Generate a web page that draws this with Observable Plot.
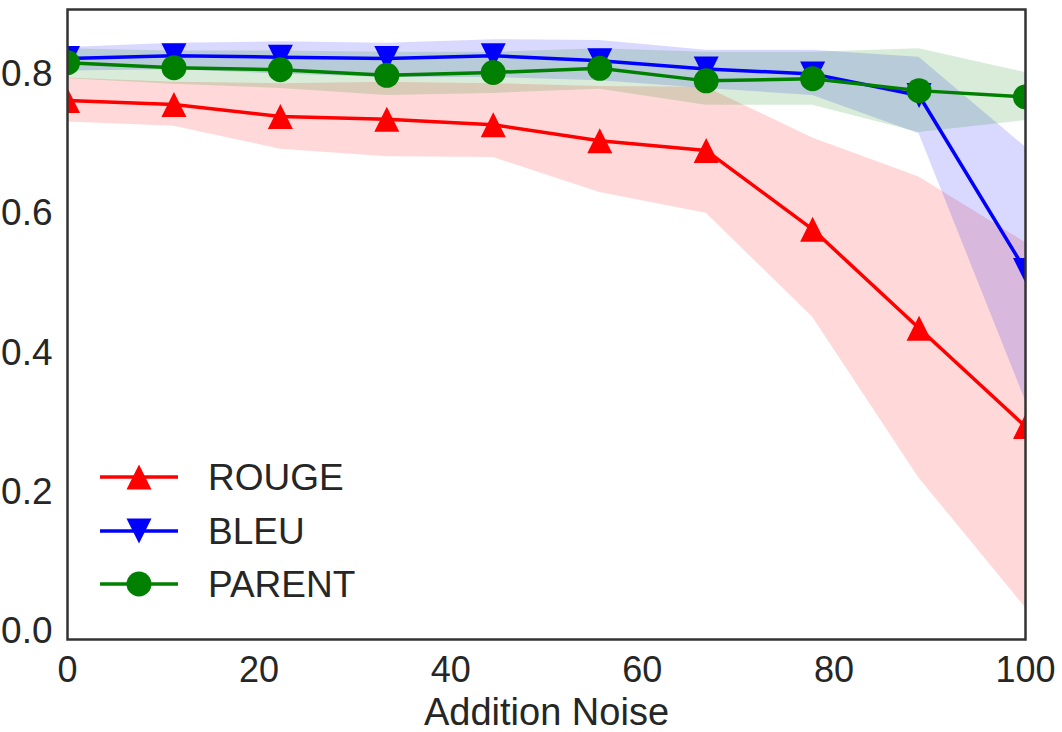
<!DOCTYPE html>
<html>
<head>
<meta charset="utf-8">
<script src="https://cdn.jsdelivr.net/npm/d3@7"></script>
<script src="https://cdn.jsdelivr.net/npm/@observablehq/plot@0.6"></script>
<style>
  html, body { margin: 0; padding: 0; background: #fff; }
  #chart { width: 1062px; height: 732px; }
</style>
</head>
<body>
<div id="chart"></div>
<script>
// Noise levels (x) and the score of each metric with its spread band
const noise = [0, 11.11, 22.22, 33.33, 44.44, 55.56, 66.67, 77.78, 88.89, 100];

const rougeMean = [0.762, 0.756, 0.739, 0.735, 0.727, 0.704, 0.690, 0.577, 0.435, 0.294];
const rougeLo   = [0.731, 0.725, 0.692, 0.681, 0.680, 0.630, 0.600, 0.451, 0.220, 0.034];
const rougeHi   = [0.794, 0.788, 0.786, 0.788, 0.786, 0.782, 0.781, 0.708, 0.652, 0.558];

const bleuMean = [0.822, 0.826, 0.824, 0.822, 0.826, 0.819, 0.807, 0.800, 0.769, 0.518];
const bleuLo   = [0.804, 0.806, 0.800, 0.795, 0.795, 0.790, 0.779, 0.769, 0.714, 0.331];
const bleuHi   = [0.838, 0.844, 0.846, 0.844, 0.849, 0.848, 0.834, 0.834, 0.824, 0.695];

const parentMean = [0.816, 0.809, 0.806, 0.798, 0.802, 0.808, 0.790, 0.793, 0.776, 0.767];
const parentLo   = [0.793, 0.785, 0.779, 0.769, 0.772, 0.778, 0.755, 0.755, 0.716, 0.733];
const parentHi   = [0.836, 0.833, 0.833, 0.831, 0.831, 0.836, 0.831, 0.831, 0.836, 0.802];

const seriesNames  = ["ROUGE", "BLEU", "PARENT"];
const seriesColors = ["red", "blue", "green"];
const xTicks = [0, 20, 40, 60, 80, 100];
const yTicks = [0.0, 0.2, 0.4, 0.6, 0.8];
const xLabel = "Addition Noise";

// Marker shapes: isoceles triangles as tall as they are wide, centred on their box
const triUp = {
  draw(ctx, size) {
    const r = Math.sqrt(size / Math.PI);
    ctx.moveTo(0, -r); ctx.lineTo(r, r); ctx.lineTo(-r, r); ctx.closePath();
  }
};
const triDown = {
  draw(ctx, size) {
    const r = Math.sqrt(size / Math.PI);
    ctx.moveTo(0, r); ctx.lineTo(r, -r); ctx.lineTo(-r, -r); ctx.closePath();
  }
};
const symbols = [triUp, triDown, "circle"];

const rowsOf = (mean, lo, hi) => noise.map((x, i) => ({x, y: mean[i], lo: lo[i], hi: hi[i]}));
const series = [
  rowsOf(rougeMean, rougeLo, rougeHi),
  rowsOf(bleuMean, bleuLo, bleuHi),
  rowsOf(parentMean, parentLo, parentHi)
];

const FONT = "'Liberation Sans', Arial, sans-serif";
const INK = "#262626";
const LINE_W = 3.5;
const MARK_R = 12.5;

const bands = series.map((rows, k) =>
  Plot.areaY(rows, {x: "x", y1: "lo", y2: "hi", fill: seriesColors[k], fillOpacity: 0.15, clip: true}));
const lines = series.flatMap((rows, k) => [
  Plot.line(rows, {x: "x", y: "y", stroke: seriesColors[k], strokeWidth: LINE_W, clip: true}),
  Plot.dot(rows, {x: "x", y: "y", symbol: symbols[k], r: MARK_R, fill: seriesColors[k], stroke: "none", clip: true})
]);

const chart = Plot.plot({
  width: 1062,
  height: 732,
  marginLeft: 67,
  marginRight: 37,
  marginTop: 9,
  marginBottom: 93,
  style: {fontFamily: FONT, fontSize: "36px", color: INK, background: "#fff"},
  x: {domain: [0, 100]},
  y: {domain: [-0.0115, 0.8924]},
  marks: [
    ...bands,
    ...lines,
    Plot.axisX({ticks: xTicks, tickSize: 0, tickPadding: 17, label: null, fontSize: 36}),
    Plot.axisY({ticks: yTicks, tickSize: 0, tickPadding: 15, label: null, fontSize: 37, tickFormat: d3.format(".1f")}),
    Plot.text([xLabel], {frameAnchor: "bottom", dy: 85, lineAnchor: "bottom", fontSize: 38, fill: INK}),
    Plot.frame({stroke: "#333", strokeWidth: 2.5})
  ]
});
document.getElementById("chart").appendChild(chart);

// Legend in the lower-left corner of the plot area
const svg = d3.select(chart);
const legend = svg.append("g")
  .attr("font-family", FONT).attr("font-size", 37).attr("fill", INK).attr("text-anchor", "start");
const rowY = [477, 531, 584];
seriesNames.forEach((name, k) => {
  const g = legend.append("g").attr("transform", `translate(0,${rowY[k]})`);
  g.append("line").attr("x1", 100).attr("x2", 178).attr("y1", 0).attr("y2", 0)
    .attr("stroke", seriesColors[k]).attr("stroke-width", LINE_W);
  g.append("path").attr("transform", "translate(139,0)")
    .attr("d", d3.symbol(symbols[k] === "circle" ? d3.symbolCircle : symbols[k], Math.PI * MARK_R * MARK_R)())
    .attr("fill", seriesColors[k]);
  g.append("text").attr("x", 208).attr("y", 0).attr("dy", "0.35em").attr("text-anchor", "start").text(name);
});
</script>
</body>
</html>
